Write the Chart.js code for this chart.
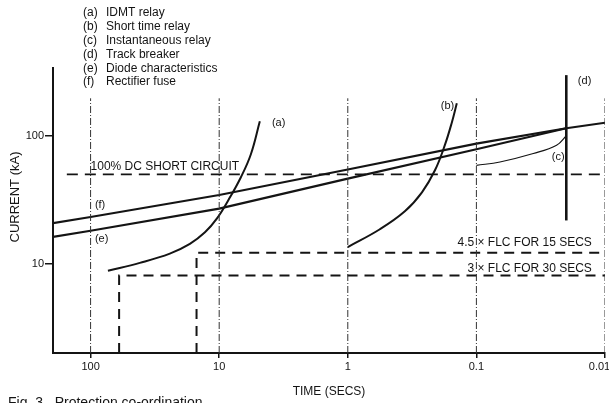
<!DOCTYPE html>
<html>
<head>
<meta charset="utf-8">
<script src="https://cdn.jsdelivr.net/npm/chart.js@4/dist/chart.umd.min.js"></script>
<style>
  html, body { margin: 0; padding: 0; background: #fff; }
  canvas { display: block; }
</style>
</head>
<body>
<canvas id="c" width="609" height="403"></canvas>
<script>
// ---- Data (time in seconds, current in kA) ----
const xTickValues = [100, 10, 1, 0.1, 0.01];
const xTickLabels = ['100', '10', '1', '0.1', '0.01'];
const yTickValues = [10, 100];
const yTickLabels = ['10', '100'];

const gridTimes = [100, 10, 1, 0.1, 0.01];
const gridCurrentRange = [2, 197];

// (f) Rectifier fuse
const fuseTime = [196, 100, 10, 1, 0.1, 0.02, 0.01];
const fuseCurrent = [20.8, 23.2, 34.5, 54.6, 86.9, 114.8, 126.8];

// (e) Diode characteristics
const diodeTime = [196, 100, 10, 1, 0.1, 0.02];
const diodeCurrent = [16.2, 18.1, 27.0, 46.3, 78.7, 114.8];

// (a) IDMT relay
const idmtTime = [73.3, 41.4, 24.2, 16.9, 12.9, 10.4, 8.41, 6.78, 5.67, 4.83];
const idmtCurrent = [8.8, 10.15, 12.0, 14.3, 17.6, 22.6, 31.9, 47.5, 71.9, 130];

// (b) Short time relay
const shortTime = [1, 0.563, 0.36, 0.265, 0.21, 0.176, 0.155, 0.142];
const shortCurrent = [13.5, 18.6, 25.7, 36.2, 53.8, 84.6, 128, 180];

// (c) Instantaneous relay
const instTime = [0.1, 0.0656, 0.0361, 0.0238, 0.0199];
const instCurrent = [58.9, 62.5, 72.8, 84.5, 101];

// (d) Track breaker
const breakerTime = [0.02, 0.02];
const breakerCurrent = [21.8, 299];

// 100% DC short circuit
const dcTime = [153, 0.01];
const dcCurrent = [50, 50];

// 4.5 x FLC for 15 secs
const flc45Time = [15, 15, 0.01];
const flc45Current = [2, 12.2, 12.2];

// 3 x FLC for 30 secs
const flc3Time = [60, 60, 0.01];
const flc3Current = [2, 8.1, 8.1];

// Legend entries
const legendKeys = ['(a)', '(b)', '(c)', '(d)', '(e)', '(f)'];
const legendNames = ['IDMT relay', 'Short time relay', 'Instantaneous relay', 'Track breaker', 'Diode characteristics', 'Rectifier fuse'];

// In-plot annotations anchored in data units [time, kA]
const curveLabels = [
  { text: '(a)', t: 3.89, i: 125.8, align: 'left' },
  { text: '(b)', t: 0.189, i: 171, align: 'left' },
  { text: '(c)', t: 0.0259, i: 68, align: 'left' },
  { text: '(d)', t: 0.01626, i: 268, align: 'left' },
  { text: '(f)', t: 92.6, i: 28.6, align: 'left' },
  { text: '(e)', t: 92.6, i: 15.5, align: 'left' },
  { text: '100% DC SHORT CIRCUIT', t: 100, i: 57.9, align: 'left' },
  { text: '4.5 × FLC FOR 15 SECS', t: 0.01265, i: 14.7, align: 'right' },
  { text: '3 × FLC FOR 30 SECS', t: 0.01265, i: 9.2, align: 'right' }
];

// ---- Build datasets ----
const pts = (ts, vs) => ts.map((t, k) => ({ x: t, y: vs[k] }));
const INK = '#141414';
function ds(data, opts) {
  return Object.assign({
    data, showLine: true, pointRadius: 0, borderColor: INK, backgroundColor: INK,
    borderWidth: 2, fill: false, tension: 0
  }, opts || {});
}

const datasets = [];
gridTimes.forEach(t => {
  datasets.push(ds(pts([t, t], gridCurrentRange), { borderWidth: 1, borderColor: '#333', borderDash: [7, 2, 1, 2] }));
});
datasets.push(ds(pts(dcTime, dcCurrent), { borderWidth: 1.8, borderDash: [11, 7] }));
datasets.push(ds(pts(flc45Time, flc45Current), { borderWidth: 2, borderDash: [10, 7] }));
datasets.push(ds(pts(flc3Time, flc3Current), { borderWidth: 2, borderDash: [10, 7] }));
datasets.push(ds(pts(fuseTime, fuseCurrent), { borderWidth: 2.2 }));
datasets.push(ds(pts(diodeTime, diodeCurrent), { borderWidth: 2.2 }));
datasets.push(ds(pts(idmtTime, idmtCurrent), { borderWidth: 2, tension: 0.4 }));
datasets.push(ds(pts(shortTime, shortCurrent), { borderWidth: 2, tension: 0.4 }));
datasets.push(ds(pts(instTime, instCurrent), { borderWidth: 1.2, tension: 0.4 }));
datasets.push(ds(pts(breakerTime, breakerCurrent), { borderWidth: 2.6 }));

const FONT = '"Liberation Sans", Arial, sans-serif';

const textPlugin = {
  id: 'texts',
  afterDraw(chart) {
    const c = chart.ctx;
    const xs = chart.scales.x, ys = chart.scales.y;
    c.save();
    c.fillStyle = INK;
    // legend
    c.font = '12px ' + FONT;
    c.textBaseline = 'middle';
    c.textAlign = 'left';
    legendKeys.forEach((k, n) => {
      const y = 13 + n * 13.8;
      c.fillText(k, 83, y);
      c.fillText(legendNames[n], 106, y);
    });
    // curve labels
    curveLabels.forEach(l => {
      c.font = (l.text.length > 4 ? '12px ' : '11px ') + FONT;
      c.textAlign = l.align;
      c.fillText(l.text, xs.getPixelForValue(l.t), ys.getPixelForValue(l.i));
    });
    // axis titles
    c.font = '12px ' + FONT;
    c.textAlign = 'center';
    c.fillText('TIME (SECS)', (chart.chartArea.left + chart.chartArea.right) / 2, 392);
    c.save();
    c.translate(15, 197);
    c.rotate(-Math.PI / 2);
    c.font = '13px ' + FONT;
    c.fillText('CURRENT (kA)', 0, 0);
    c.restore();
    // caption (partly cut off at the bottom)
    c.font = '14px ' + FONT;
    c.textAlign = 'left';
    c.textBaseline = 'top';
    c.fillText('Fig. 3   Protection co-ordination', 8, 396);
    c.restore();
  }
};

new Chart(document.getElementById('c'), {
  type: 'scatter',
  data: { datasets },
  options: {
    responsive: false,
    animation: false,
    layout: { padding: { top: 68, right: 4, left: 0, bottom: 0 } },
    plugins: { legend: { display: false }, tooltip: { enabled: false } },
    scales: {
      x: {
        type: 'logarithmic', reverse: true, min: 0.01, max: 196,
        afterBuildTicks: s => { s.ticks = xTickValues.map(v => ({ value: v })); },
        afterFit: s => { s.height = 50; s.paddingLeft = 0; s.paddingRight = 0; },
        ticks: {
          autoSkip: false, maxRotation: 0, minRotation: 0, padding: 2, color: INK,
          font: { family: FONT, size: 11 },
          callback: (v) => {
            const k = xTickValues.indexOf(v);
            if (k < 0) return '';
            // last label sits against the right edge: pad so it stays inside the page
            return k === xTickValues.length - 1 ? xTickLabels[k] + '\u2002\u2002' : xTickLabels[k];
          }
        },
        grid: { drawOnChartArea: false, drawTicks: true, tickLength: 5, color: INK, lineWidth: 1.5 },
        border: { display: true, color: INK, width: 2 }
      },
      y: {
        type: 'logarithmic', min: 2, max: 340,
        afterBuildTicks: s => { s.ticks = yTickValues.map(v => ({ value: v })); },
        afterFit: s => { s.width = 53; s.paddingTop = 0; s.paddingBottom = 0; },
        ticks: {
          autoSkip: false, padding: 1, color: INK,
          font: { family: FONT, size: 11 },
          callback: (v) => { const k = yTickValues.indexOf(v); return k >= 0 ? yTickLabels[k] : ''; }
        },
        grid: { drawOnChartArea: false, drawTicks: true, tickLength: 8, color: INK, lineWidth: 1.5 },
        border: { display: true, color: INK, width: 2 }
      }
    }
  },
  plugins: [textPlugin]
});
</script>
</body>
</html>
